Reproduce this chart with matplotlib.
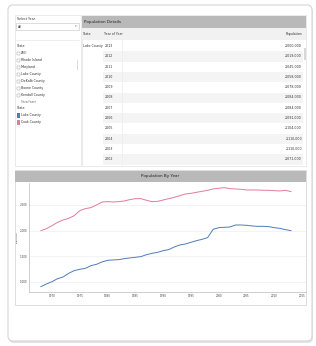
import numpy as np
import matplotlib.pyplot as plt
from matplotlib.patches import Rectangle, FancyBboxPatch

# data
years = list(range(1968, 2014))
cook = [2000, 2039, 2097, 2162, 2208, 2240, 2292, 2390, 2429, 2448,
        2500, 2558, 2565, 2558, 2565, 2578, 2604, 2623, 2623, 2591,
        2565, 2571, 2597, 2623, 2649, 2682, 2714, 2727, 2747, 2766,
        2786, 2812, 2825, 2838, 2818, 2812, 2805, 2792, 2792, 2792,
        2786, 2786, 2779, 2773, 2786, 2760]
lake = [909, 961, 1006, 1065, 1097, 1169, 1221, 1247, 1266, 1318,
        1344, 1390, 1422, 1429, 1435, 1455, 1468, 1481, 1494, 1532,
        1558, 1578, 1610, 1630, 1682, 1721, 1740, 1773, 1805, 1831,
        1864, 2026, 2058, 2065, 2071, 2110, 2110, 2104, 2091, 2084,
        2084, 2078, 2058, 2045, 2019, 2000]
x_ticks = [1970, 1975, 1980, 1985, 1990, 1995, 2000, 2005, 2010, 2015]
y_ticks = [1000, 1500, 2000, 2500]
filter_items = ['(All)', 'Rhode Island', 'Maryland', 'Lake County',
                'DeKalb County', 'Boone County', 'Kendall County']
legend_items = ['Lake County', 'Cook County']
table_years = years[::-1][:12]
table_pop = lake[::-1][:12]

BLUE = '#4f7cb8'
PINK = '#e07b9c'
HEAD = '#b9b9b9'

fig = plt.figure(figsize=(3.16, 3.46), dpi=100)
bg = fig.add_axes([0, 0, 1, 1])
bg.set_xlim(0, 316)
bg.set_ylim(346, 0)
bg.axis('off')

# card with soft shadow
bg.add_patch(FancyBboxPatch((9, 7), 304, 336, boxstyle='round,pad=0,rounding_size=5',
                            fc='#e4e4e4', ec='none'))
bg.add_patch(FancyBboxPatch((8, 5), 304, 336, boxstyle='round,pad=0,rounding_size=5',
                            fc='white', ec='#d6d6d6', lw=0.8))

fs = 2.3
# left filter panel
bg.add_patch(Rectangle((15, 15), 66, 151, fc='white', ec='#e2e2e2', lw=0.5))
bg.text(17, 19, 'Select Year', fontsize=fs, va='center', color='#333')
bg.add_patch(Rectangle((16, 23), 63, 7, fc='white', ec='#cfcfcf', lw=0.5))
bg.text(18, 26.5, 'All', fontsize=fs, va='center', color='#333')
bg.text(77, 26.5, '\u25be', fontsize=fs, va='center', ha='right', color='#777')
bg.plot([16, 79], [40, 40], color='#e8e8e8', lw=0.5)
bg.text(17, 46, 'State', fontsize=fs, va='center', color='#333')
for i, name in enumerate(filter_items):
    yy = 53 + i * 7
    bg.add_patch(Rectangle((17, yy - 1.5), 2.5, 3, fc='white', ec='#999', lw=0.3))
    bg.text(21, yy, name, fontsize=fs, va='center', color='#333')
bg.text(21, 102, 'Show Fewer', fontsize=fs * 0.8, va='center', color='#666')
bg.add_patch(Rectangle((76.5, 60), 1.5, 10, fc='#dcdcdc', ec='none'))
bg.text(17, 108, 'State', fontsize=fs, va='center', color='#333')
for i, (name, c) in enumerate(zip(legend_items, [BLUE, PINK])):
    yy = 115 + i * 7.5
    bg.add_patch(Rectangle((17, yy - 2.5), 2.5, 5, fc=c, ec='none'))
    bg.text(21, yy, name, fontsize=fs, va='center', color='#333')

# table panel
bg.add_patch(Rectangle((82, 15), 224, 151, fc='white', ec='#e2e2e2', lw=0.5))
bg.add_patch(Rectangle((82, 16), 224, 12, fc=HEAD, ec='none'))
bg.text(84, 22, 'Population Details', fontsize=3.0, va='center', color='#222')
bg.add_patch(Rectangle((82, 28), 224, 12, fc='#f1f1f1', ec='none'))
bg.text(83, 34, 'State', fontsize=fs, va='center', color='#333')
bg.text(104, 34, 'Year of Year', fontsize=fs, va='center', color='#333')
bg.text(302, 34, 'Population', fontsize=fs, va='center', ha='right', color='#333')
bg.text(83, 46, 'Lake County', fontsize=fs, va='center', color='#333')
for i, (yr, pop) in enumerate(zip(table_years, table_pop)):
    yy = 46 + i * 10.3
    if i % 2 == 1:
        bg.add_patch(Rectangle((103, yy - 5), 200, 10.3, fc='#f4f4f4', ec='none'))
    bg.text(105, yy, str(yr), fontsize=fs, va='center', color='#333')
    bg.text(302, yy, f'{pop * 1000:,}', fontsize=fs, va='center', ha='right', color='#333')
bg.plot([122, 122], [40, 165], color='#ececec', lw=0.5)
bg.add_patch(Rectangle((303.5, 48), 2, 12, fc='#d8d8d8', ec='none'))

# line chart panel
bg.add_patch(Rectangle((15, 170), 291, 135, fc='white', ec='#d8d8d8', lw=0.6))
bg.add_patch(Rectangle((15, 171), 291, 10.5, fc=HEAD, ec='none'))
bg.text(160, 176, 'Population By Year', fontsize=3.0, va='center', ha='center', color='#222')
bg.text(16.8, 237, 'Population', fontsize=1.6, rotation=90, va='center', ha='center', color='#333')

ax = fig.add_axes([29 / 316, 1 - 292 / 346, 277 / 316, 109 / 346])
ax.plot(years, cook, color=PINK, lw=0.7)
ax.plot(years, lake, color=BLUE, lw=0.7)
ax.set_xlim(1965.86, 2015.7)
ax.set_ylim(805, 2928)
ax.set_xticks(x_ticks)
ax.set_xticklabels([str(t) for t in x_ticks])
ax.set_yticks(y_ticks)
ax.set_yticklabels([f'{t:,}' for t in y_ticks])
ax.tick_params(labelsize=2.0, colors='#444', length=0, pad=1.5)
ax.grid(axis='y', color='#eeeeee', lw=0.5)
ax.set_axisbelow(True)
for s in ['top', 'right']:
    ax.spines[s].set_visible(False)
for s in ['left', 'bottom']:
    ax.spines[s].set_color('#bbbbbb')
    ax.spines[s].set_linewidth(0.5)

fig.savefig('out.png', dpi=100)
